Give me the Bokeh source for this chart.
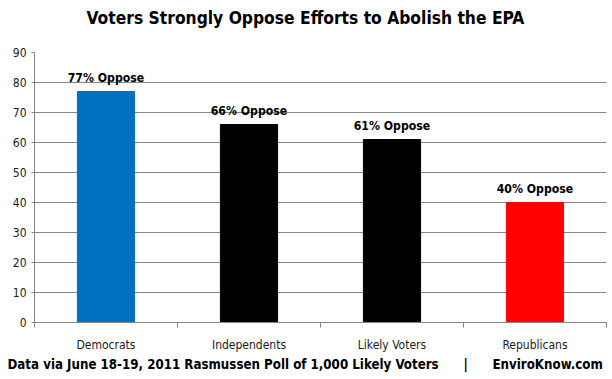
from bokeh.plotting import figure
from bokeh.models import Range1d, FixedTicker, Title, ColumnDataSource
from bokeh.core.properties import value
from bokeh.embed import file_html
from bokeh.resources import INLINE

categories = ["Democrats", "Independents", "Likely Voters", "Republicans"]
oppose = [77, 66, 61, 40]
colors = ["#0070C0", "#000000", "#000000", "#FF0000"]
labels = [f"{v}% Oppose" for v in oppose]
y_ticks = [0, 10, 20, 30, 40, 50, 60, 70, 80, 90]
title_text = "Voters Strongly Oppose Efforts to Abolish the EPA"
gap = "\u00a0" * 6
footer_text = f"Data via June 18-19, 2011 Rasmussen Poll of 1,000 Likely Voters{gap}|{gap}EnviroKnow.com"

FONT = "DejaVu Sans Condensed"
xs = [i + 0.5 for i in range(len(categories))]
src = ColumnDataSource(dict(x=xs, top=oppose, color=colors, label=labels))

p = figure(width=612, height=379, output_backend="svg", toolbar_location=None,
           x_range=Range1d(0, len(categories)), y_range=Range1d(0, 90),
           min_border_left=34, min_border_right=6, min_border_top=52, min_border_bottom=57)
p.outline_line_color = None
p.background_fill_color = "white"
p.border_fill_color = "white"

p.vbar(x="x", top="top", bottom=0, width=0.4, color="color", source=src)
p.text(x="x", y="top", text="label", source=src, text_align="center",
       text_baseline="alphabetic", y_offset=-14, text_font=value(FONT),
       text_font_style="bold", text_font_size="12.2px", text_color="#000000")

# y axis
p.yaxis.ticker = FixedTicker(ticks=y_ticks)
p.yaxis.axis_line_color = "#868686"
p.yaxis.major_tick_line_color = "#868686"
p.yaxis.major_tick_out = 3
p.yaxis.major_tick_in = 0
p.yaxis.minor_tick_line_color = None
p.yaxis.major_label_text_font = FONT
p.yaxis.major_label_text_font_size = "12px"
p.yaxis.major_label_text_color = "#1a1a1a"
p.yaxis.major_label_standoff = 5
p.ygrid.ticker = FixedTicker(ticks=y_ticks)
p.ygrid.grid_line_color = "#868686"
p.ygrid.grid_line_width = 1
p.xgrid.grid_line_color = None

# x axis: labels at centers, tick marks at category boundaries
p.xaxis.ticker = FixedTicker(ticks=xs, minor_ticks=list(range(len(categories) + 1)))
p.xaxis.major_label_overrides = {x: c for x, c in zip(xs, categories)}
p.xaxis.axis_line_color = "#868686"
p.xaxis.major_tick_line_color = None
p.xaxis.major_tick_out = 0
p.xaxis.major_tick_in = 0
p.xaxis.minor_tick_line_color = "#868686"
p.xaxis.minor_tick_out = 5
p.xaxis.minor_tick_in = 0
p.xaxis.major_label_text_font = FONT
p.xaxis.major_label_text_font_size = "12px"
p.xaxis.major_label_text_color = "#1a1a1a"
p.xaxis.major_label_standoff = 10

# spacer between frame and title
p.add_layout(Title(text="\u00a0", text_font_size="10px", standoff=12), "above")
p.title = Title(text=title_text, align="left", offset=52, standoff=0,
                text_font=FONT, text_font_size="17.3px", text_font_style="bold",
                text_color="#000000")
p.add_layout(Title(text=footer_text, align="left", offset=-27, standoff=0,
                   text_font=FONT, text_font_size="13.2px", text_font_style="bold",
                   text_color="#000000"), "below")

open("out.html", "w").write(file_html(p, INLINE))
